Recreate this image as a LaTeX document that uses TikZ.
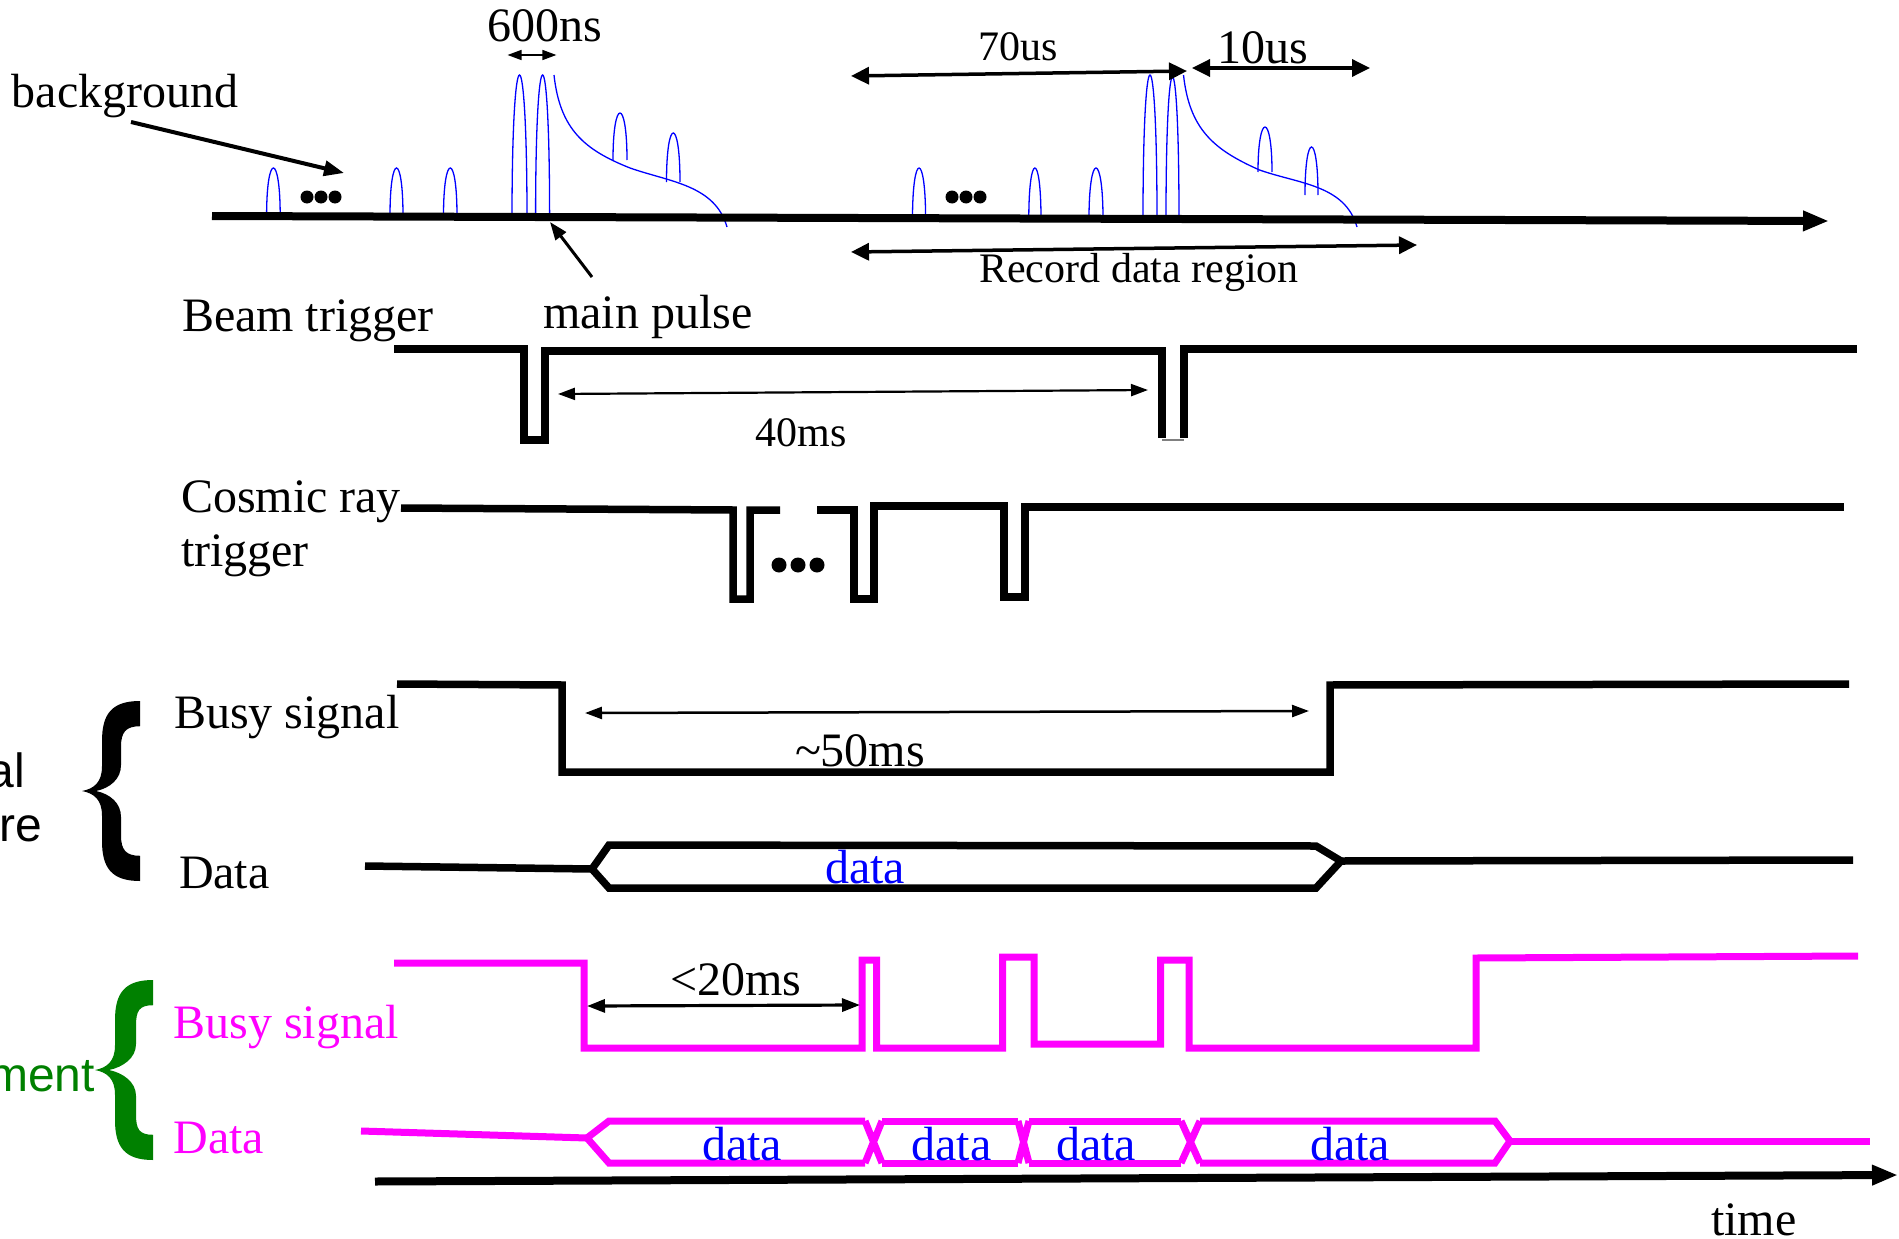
\documentclass[tikz,border=0pt]{standalone}
\usepackage{fontspec}
\setmainfont{Liberation Serif}
\newfontfamily\lsans{Liberation Sans}
\usetikzlibrary{arrows.meta}
\definecolor{mag}{HTML}{FF00FF}
\definecolor{grn}{HTML}{008000}
\definecolor{blu}{HTML}{0000FF}
\newcommand\mypulse[4]{\draw[bluepulse] (#1,#3) .. controls (#1,{#3+(#4-#3)*4/3}) and (#2,{#3+(#4-#3)*4/3}) .. (#2,#3);}
\newcommand\mybracepath[1]{(58,0) .. controls (30,0) and (20,11) .. (20,35) -- (20,57) .. controls (20,71) and (12,76.5) .. (0,78.5) .. controls (12,80.5) and (20,86) .. (20,100) -- (20,122) .. controls (20,146) and (30,157) .. (58,157) -- (58,135) .. controls (44,135) and (#1,130) .. (#1,117) -- (#1,101) .. controls (#1,89) and (28,81) .. (14,78.5) .. controls (28,76) and (#1,68) .. (#1,56) -- (#1,40) .. controls (#1,27) and (44,22) .. (58,22) -- cycle}
\begin{document}
\begin{tikzpicture}[x=1pt,y=-1pt,
  every node/.style={inner sep=0pt,outer sep=0pt},
  big/.style={font=\fontsize{48}{56}\selectfont},
  mid/.style={font=\fontsize{42}{50}\selectfont},
  sansl/.style={font=\lsans\fontsize{48}{56}\selectfont},
  sig/.style={line width=7.5pt,line join=miter},
  msig/.style={draw=mag,line width=7pt,line join=miter},
  bluepulse/.style={draw=blu,line width=1.3pt},
  axisarrow/.style={line width=8pt,-{Triangle[length=26pt,width=19pt]}},
  dimthick/.style={line width=3.5pt,{Triangle[length=18pt,width=17pt]}-{Triangle[length=18pt,width=17pt]}},
  dimthin/.style={line width=2.2pt,{Triangle[length=17pt,width=12pt]}-{Triangle[length=17pt,width=12pt]}},
  dimmid/.style={line width=3.2pt,{Triangle[length=18pt,width=13pt]}-{Triangle[length=18pt,width=13pt]}},
  dimsmall/.style={line width=1.5pt,{Triangle[length=14pt,width=10pt]}-{Triangle[length=14pt,width=10pt]}},
  pointer/.style={line width=4pt,-{Triangle[length=20pt,width=15pt]}},
  pointerb/.style={line width=3pt,-{Triangle[length=18pt,width=13pt]}}]
\useasboundingbox (0,0) rectangle (1899,1239);
\clip (0,0) rectangle (1899,1239);
\fill[white] (0,0) rectangle (1899,1239);

% ---------- top timeline: blue pulses ----------
\mypulse{266.6}{280.2}{216}{168}
\mypulse{390}{403}{216}{168}
\mypulse{443.5}{457}{216}{168}
\mypulse{512}{527}{219}{75}
\mypulse{535.6}{549.6}{216}{75}
\draw[bluepulse] (554,75) .. controls (560,130) and (585,150) .. (630,168) .. controls (670,182) and (715,185) .. (727,227);
\mypulse{613}{627}{160}{113}
\mypulse{666.5}{680}{182}{133}
\mypulse{912.5}{925.6}{219}{168}
\mypulse{1028.8}{1041}{219}{168}
\mypulse{1089}{1103}{219}{168}
\mypulse{1143}{1157}{219}{75}
\mypulse{1166}{1179}{219}{77}
\draw[bluepulse] (1183.5,75) .. controls (1189.5,130) and (1214.5,150) .. (1259.5,170) .. controls (1299.5,184) and (1345,185) .. (1357,227);
\mypulse{1258}{1272}{172}{127}
\mypulse{1305}{1318}{195}{147}
\fill (307,197) circle (6.5pt) (321,197) circle (6.5pt) (335,197) circle (6.5pt);
\fill (952,197) circle (6.5pt) (966,197) circle (6.5pt) (980,197) circle (6.5pt);

\coordinate (ax1) at (212,216);
\coordinate (ax2) at (1829,221);
\draw[axisarrow] (ax1) -- (ax2);

% ---------- top labels and arrows ----------
\node[big,anchor=base west] (tbg) at (12,107) {background};
\coordinate (bgA) at (131,122);
\coordinate (bgB) at (344,173);
\draw[pointer] (bgA) -- (bgB);

\node[big,anchor=base] (t600) at (545,42) {600ns};
\coordinate (n6a) at (507.5,55);
\coordinate (n6b) at (556.4,55);
\draw[dimsmall] (n6a) -- (n6b);

\node[mid,anchor=base] (t70) at (1018,61) {70us};
\coordinate (u7a) at (851,76);
\coordinate (u7b) at (1187,71);
\draw[dimthick] (u7a) -- (u7b);

\node[big,anchor=base] (t10) at (1263,64) {10us};
\coordinate (u1a) at (1192,68);
\coordinate (u1b) at (1370,68);
\draw[dimthick] (u1a) -- (u1b);

\node[mid,anchor=base] (trec) at (1139,282) {Record data region};
\coordinate (rda) at (851,252);
\coordinate (rdb) at (1417,245);
\draw[dimthick] (rda) -- (rdb);

\node[big,anchor=base west] (tmain) at (543,328) {main pulse};
\coordinate (mpa) at (592,277);
\coordinate (mpb) at (550,222);
\draw[pointerb] (mpa) -- (mpb);

% ---------- beam trigger ----------
\node[big,anchor=base west] (tbeam) at (182,331) {Beam trigger};
\draw[sig] (394,349) -- (524,349) -- (524,440) -- (545,440) -- (545,351) -- (1162,351) -- (1162,438);
\draw[sig] (1184,438) -- (1184,349) -- (1857,349);
\draw[gray,line width=1.5pt] (1162,440) -- (1184,440);
\node[mid,anchor=base] (t40) at (801,446) {40ms};
\coordinate (fa) at (558,394);
\coordinate (fb) at (1148,390);
\draw[dimthin] (fa) -- (fb);

% ---------- cosmic ray trigger ----------
\node[big,anchor=base west] (tcos) at (181,512) {Cosmic ray};
\node[big,anchor=base west] (ttrig) at (181,566) {trigger};
\draw[sig] (401,508) -- (733,510) -- (733,599) -- (750,599) -- (750,510) -- (780,510);
\draw[sig] (817,510) -- (854,510) -- (854,599) -- (874,599) -- (874,506) -- (1004,506) -- (1004,597) -- (1025,597) -- (1025,507) -- (1844,507);
\fill (779,565) circle (7.5pt) (798,565) circle (7.5pt) (817,565) circle (7.5pt);

% ---------- original hardware ----------
\node[sansl,anchor=base east] (tal) at (25,787) {al};
\node[sansl,anchor=base east] (tre) at (42,841) {re};
\fill[black,shift={(82,701)},yscale=1.1465] \mybracepath{39};
\node[big,anchor=base west] (tbusy) at (174,728) {Busy signal};
\draw[sig] (397,684) -- (562,685) -- (562,772) -- (1330,772) -- (1330,685) -- (1849,684);
\node[big,anchor=base] (t50) at (860,766) {\textasciitilde50ms};
\coordinate (ca) at (585,713);
\coordinate (cb) at (1309,711);
\draw[dimthin,line width=2.5pt] (ca) -- (cb);
\node[big,anchor=base west] (tdata) at (179,888) {Data};
\draw[sig] (365,866) -- (592,869);
\draw[sig] (592,869) -- (609,845) -- (1316,846) -- (1341,861) -- (1316,888) -- (609,888) -- cycle;
\draw[sig] (1341,861) -- (1853,860);
\node[big,anchor=base,text=blu] (d0) at (865,883) {data};

% ---------- improvement ----------
\node[sansl,anchor=base east,text=grn] (tment) at (95,1091) {ment};
\fill[grn,shift={(95,980)},yscale=1.1465] \mybracepath{41};
\node[big,anchor=base west,text=mag] (tbusy2) at (173.5,1038) {Busy signal};
\draw[msig] (394,963) -- (584,963) -- (584,1048) -- (862,1048) -- (862,960) -- (876.5,960) -- (876.5,1048) -- (1002.5,1048) -- (1002.5,957) -- (1034,957) -- (1034,1044) -- (1160.5,1044) -- (1160.5,960) -- (1189,960) -- (1189,1048) -- (1476,1048) -- (1476,958) -- (1858,956);
\node[big,anchor=base] (t20) at (736,995) {<20ms};
\coordinate (ta) at (587,1006);
\coordinate (tb) at (860,1005);
\draw[dimmid] (ta) -- (tb);

\node[big,anchor=base west,text=mag] (tdata2) at (173.5,1153) {Data};
\draw[msig] (361,1131) -- (587,1138);
\draw[msig] (865,1121) -- (609,1121) -- (587,1138) -- (609,1163) -- (865,1163);
\draw[msig] (865,1121) -- (882,1163) (882,1121) -- (865,1163);
\draw[msig] (882,1121) -- (1018,1121) (882,1163) -- (1018,1163);
\draw[msig] (1018,1121) -- (1029,1163) (1029,1121) -- (1018,1163);
\draw[msig] (1029,1121) -- (1181,1121) (1029,1163) -- (1181,1163);
\draw[msig] (1181,1121) -- (1200,1163) (1200,1121) -- (1181,1163);
\draw[msig] (1200,1121) -- (1495,1121) -- (1510,1141) -- (1495,1163) -- (1200,1163);
\draw[msig] (1510,1141) -- (1870,1141);
\node[big,anchor=base,text=blu] (d1) at (742,1160) {data};
\node[big,anchor=base,text=blu] (d2) at (951.5,1160) {data};
\node[big,anchor=base,text=blu] (d3) at (1096,1160) {data};
\node[big,anchor=base,text=blu] (d4) at (1350,1160) {data};

% ---------- time axis ----------
\coordinate (tx1) at (375,1181.5);
\coordinate (tx2) at (1898,1175);
\draw[axisarrow] (tx1) -- (tx2);
\node[big,anchor=base west] (ttime) at (1711,1235) {time};
\end{tikzpicture}
\end{document}
